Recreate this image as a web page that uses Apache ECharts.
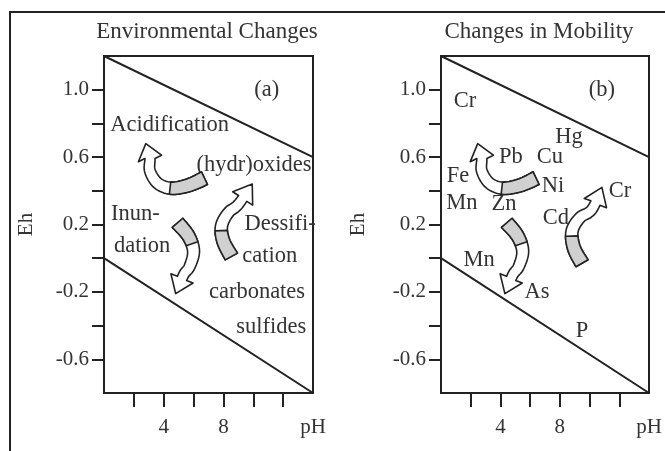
<!DOCTYPE html>
<html>
<head>
<meta charset="UTF-8">
<title>Eh-pH changes</title>
<script src="https://cdn.jsdelivr.net/npm/echarts@6/dist/echarts.min.js"></script>
<style>
    html, body { margin: 0; padding: 0; background: #fff; }
    #chart { width: 665px; height: 451px; }
</style>
</head>
<body>
<div id="chart"></div>
<script>
// stability limits of water, same in both panels [pH, Eh]
var upperLine = [[0, 1.2], [14, 0.6]];
var lowerLine = [[0, 0.0], [14, -0.8]];

var panelTitles = ['Environmental Changes', 'Changes in Mobility'];

var xTickValues = [2, 4, 6, 8, 10, 12];
var xLabelValues = [4, 8, 14];
var xLabelTexts = ['4', '8', 'pH'];
var yTickValues = [-0.6, -0.4, -0.2, 0, 0.2, 0.4, 0.6, 0.8, 1.0];
var yLabelValues = [-0.6, -0.2, 0.2, 0.6, 1.0];

// panel (a) words and where they sit [pH, Eh]
var textA = ['(a)', 'Acidification', '(hydr)oxides', 'Inun-', 'dation', 'Dessifi-', 'cation', 'carbonates', 'sulfides'];
var textAPos = [[10.9, 1.0], [4.4, 0.79], [10.05, 0.55], [2.1, 0.26], [2.55, 0.07], [11.8, 0.2], [11.1, 0.01], [10.25, -0.2], [11.2, -0.41]];

// panel (b) elements
var textB = ['(b)', 'Cr', 'Hg', 'Pb', 'Cu', 'Fe', 'Ni', 'Cr', 'Mn', 'Zn', 'Cd', 'Mn', 'As', 'P'];
var textBPos = [[10.83, 1.0], [1.62, 0.93], [8.61, 0.72], [4.71, 0.6], [7.33, 0.6], [1.14, 0.49], [7.54, 0.43],
    [12.05, 0.4], [1.41, 0.33], [4.24, 0.32], [7.74, 0.24], [2.56, -0.01], [6.46, -0.2], [9.49, -0.43]];

// curved arrows: centre line from tail to tip [pH, Eh]
var arrowsA = [
    [[6.73, 0.475], [5.73, 0.435], [4.53, 0.415], [3.6, 0.445], [3.07, 0.52], [3.07, 0.6], [2.8, 0.68]],
    [[4.93, 0.21], [5.67, 0.13], [6.0, 0.04], [5.73, -0.05], [5.33, -0.1], [4.8, -0.21]],
    [[8.53, 0.01], [8.0, 0.1], [7.87, 0.19], [8.33, 0.27], [9.0, 0.32], [9.93, 0.44]]
];
var arrowsB = [
    [[6.4, 0.475], [5.4, 0.435], [4.2, 0.415], [3.27, 0.445], [2.74, 0.52], [2.74, 0.6], [2.47, 0.68]],
    [[4.43, 0.21], [5.17, 0.13], [5.5, 0.04], [5.23, -0.05], [4.83, -0.1], [4.3, -0.21]],
    [[9.49, -0.03], [8.95, 0.06], [8.82, 0.16], [9.35, 0.24], [10.16, 0.29], [10.83, 0.42]]
];
var grayPart = [0.47, 0.4, 0.4];

var ink = '#222';
var textColor = '#333';
var serif = 'Liberation Serif';

function smoothPath(pts, n) {
    var out = [];
    for (var i = 0; i < pts.length - 1; i++) {
        var p0 = pts[Math.max(i - 1, 0)], p1 = pts[i], p2 = pts[i + 1], p3 = pts[Math.min(i + 2, pts.length - 1)];
        for (var k = 0; k < n; k++) {
            var t = k / n, t2 = t * t, t3 = t2 * t;
            var q = [];
            for (var d = 0; d < 2; d++) {
                q.push(0.5 * (2 * p1[d] + (-p0[d] + p2[d]) * t + (2 * p0[d] - 5 * p1[d] + 4 * p2[d] - p3[d]) * t2 +
                    (-p0[d] + 3 * p1[d] - 3 * p2[d] + p3[d]) * t3));
            }
            out.push(q);
        }
    }
    out.push(pts[pts.length - 1].slice());
    return out;
}

function buildArrow(px, grayFrac) {
    var bandW = 14, headW = 12, headLen = 15;
    var c = smoothPath(px, 10);
    var tip = c[c.length - 1];
    // cut the body where the head begins
    var acc = 0, cut = c.length - 1;
    for (var i = c.length - 1; i > 0; i--) {
        acc += Math.hypot(c[i][0] - c[i - 1][0], c[i][1] - c[i - 1][1]);
        if (acc >= headLen) { cut = i - 1; break; }
    }
    var body = c.slice(0, cut + 1);
    var lens = [0];
    for (i = 1; i < body.length; i++) {
        lens.push(lens[i - 1] + Math.hypot(body[i][0] - body[i - 1][0], body[i][1] - body[i - 1][1]));
    }
    var total = lens[lens.length - 1];
    var left = [], right = [];
    for (i = 0; i < body.length; i++) {
        var a = body[Math.max(i - 1, 0)], b = body[Math.min(i + 1, body.length - 1)];
        var dx = b[0] - a[0], dy = b[1] - a[1], L = Math.hypot(dx, dy) || 1;
        var nx = -dy / L, ny = dx / L;
        // ribbon is broad at the tail and narrows towards the head
        var w = bandW * (1 - 0.28 * lens[i] / total);
        left.push([body[i][0] + nx * w / 2, body[i][1] + ny * w / 2]);
        right.push([body[i][0] - nx * w / 2, body[i][1] - ny * w / 2]);
    }
    var base = body[body.length - 1];
    var hx = tip[0] - base[0], hy = tip[1] - base[1], hl = Math.hypot(hx, hy) || 1;
    var hnx = -hy / hl, hny = hx / hl;
    var outline = left.concat([
        [base[0] + hnx * headW, base[1] + hny * headW],
        tip,
        [base[0] - hnx * headW, base[1] - hny * headW]
    ]).concat(right.slice().reverse());

    var g = 0;
    while (g < body.length - 1 && lens[g] < total * grayFrac) g++;
    var gray = left.slice(0, g + 1).concat(right.slice(0, g + 1).reverse());

    return {
        type: 'group',
        children: [
            { type: 'polygon', shape: { points: outline }, style: { fill: '#fff', stroke: ink, lineWidth: 1.6, lineJoin: 'round' } },
            { type: 'polygon', shape: { points: gray }, style: { fill: '#d0d0d0', stroke: ink, lineWidth: 1.6, lineJoin: 'round' } }
        ]
    };
}

function arrowSeries(pts, gi, frac) {
    return {
        type: 'custom',
        coordinateSystem: 'cartesian2d',
        xAxisIndex: gi,
        yAxisIndex: gi,
        data: pts,
        silent: true,
        clip: false,
        z: 6,
        renderItem: function (params, api) {
            if (params.dataIndex !== 0) return null;
            var px = pts.map(function (p) { return api.coord(p); });
            return buildArrow(px, frac);
        }
    };
}

function textSeries(texts, pos, gi) {
    return {
        type: 'custom',
        coordinateSystem: 'cartesian2d',
        xAxisIndex: gi,
        yAxisIndex: gi,
        data: pos,
        silent: true,
        clip: false,
        z: 5,
        renderItem: function (params, api) {
            var c = api.coord([api.value(0), api.value(1)]);
            return {
                type: 'text',
                x: c[0],
                y: c[1],
                style: {
                    text: texts[params.dataIndex],
                    fontSize: 22.5,
                    fontFamily: serif,
                    fill: textColor,
                    align: 'center',
                    verticalAlign: 'middle'
                }
            };
        }
    };
}

function lineSeries(data, gi) {
    return {
        type: 'line',
        xAxisIndex: gi,
        yAxisIndex: gi,
        data: data,
        symbol: 'none',
        silent: true,
        z: 4,
        lineStyle: { color: ink, width: 2 }
    };
}

function xAxisOf(gi) {
    return {
        type: 'value',
        gridIndex: gi,
        min: 0,
        max: 14,
        splitLine: { show: false },
        axisLine: { show: true, onZero: false, lineStyle: { color: ink, width: 2 } },
        axisTick: { show: true, inside: false, length: 14, customValues: xTickValues, lineStyle: { color: ink, width: 2 } },
        axisLabel: {
            customValues: xLabelValues,
            margin: 24,
            fontSize: 21,
            fontFamily: serif,
            color: textColor,
            formatter: function (v) {
                var k = xLabelValues.indexOf(v);
                return k < 0 ? '' : xLabelTexts[k];
            }
        }
    };
}

function yAxisOf(gi, gap) {
    return {
        type: 'value',
        gridIndex: gi,
        min: -0.8,
        max: 1.2,
        name: 'Eh',
        nameLocation: 'middle',
        nameGap: gap,
        nameRotate: 90,
        nameMoveOverlap: false,
        nameTextStyle: { fontSize: 21, fontFamily: serif, color: textColor },
        splitLine: { show: false },
        axisLine: { show: true, onZero: false, lineStyle: { color: ink, width: 2 } },
        axisTick: { show: true, inside: false, length: 12, customValues: yTickValues, lineStyle: { color: ink, width: 2 } },
        axisLabel: {
            customValues: yLabelValues,
            margin: 15,
            fontSize: 21,
            fontFamily: serif,
            color: textColor,
            formatter: function (v) { return v.toFixed(1); }
        }
    };
}

var chart = echarts.init(document.getElementById('chart'));

var series = [
    lineSeries(upperLine, 0), lineSeries(lowerLine, 0),
    lineSeries(upperLine, 1), lineSeries(lowerLine, 1),
    textSeries(textA, textAPos, 0),
    textSeries(textB, textBPos, 1)
];
arrowsA.forEach(function (a, i) { series.push(arrowSeries(a, 0, grayPart[i])); });
arrowsB.forEach(function (a, i) { series.push(arrowSeries(a, 1, grayPart[i])); });

var option = {
    animation: false,
    backgroundColor: '#fff',
    title: [
        { text: panelTitles[0], left: 207, top: 20, textAlign: 'center', padding: 0,
          textStyle: { fontSize: 23, fontWeight: 'normal', fontFamily: serif, color: textColor } },
        { text: panelTitles[1], left: 539, top: 20, textAlign: 'center', padding: 0,
          textStyle: { fontSize: 23, fontWeight: 'normal', fontFamily: serif, color: textColor } }
    ],
    grid: [
        { left: 104, top: 56, width: 209, height: 337, show: true, borderColor: ink, borderWidth: 2, outerBoundsMode: 'none' },
        { left: 441, top: 56, width: 208, height: 337, show: true, borderColor: ink, borderWidth: 2, outerBoundsMode: 'none' }
    ],
    xAxis: [xAxisOf(0), xAxisOf(1)],
    yAxis: [yAxisOf(0, 67), yAxisOf(1, 72)],
    graphic: [
        { type: 'rect', silent: true, z: -1,
          shape: { x: 10, y: 12, width: 700, height: 500 },
          style: { fill: 'transparent', stroke: ink, lineWidth: 2 } }
    ],
    series: series
};

chart.setOption(option);
</script>
</body>
</html>
